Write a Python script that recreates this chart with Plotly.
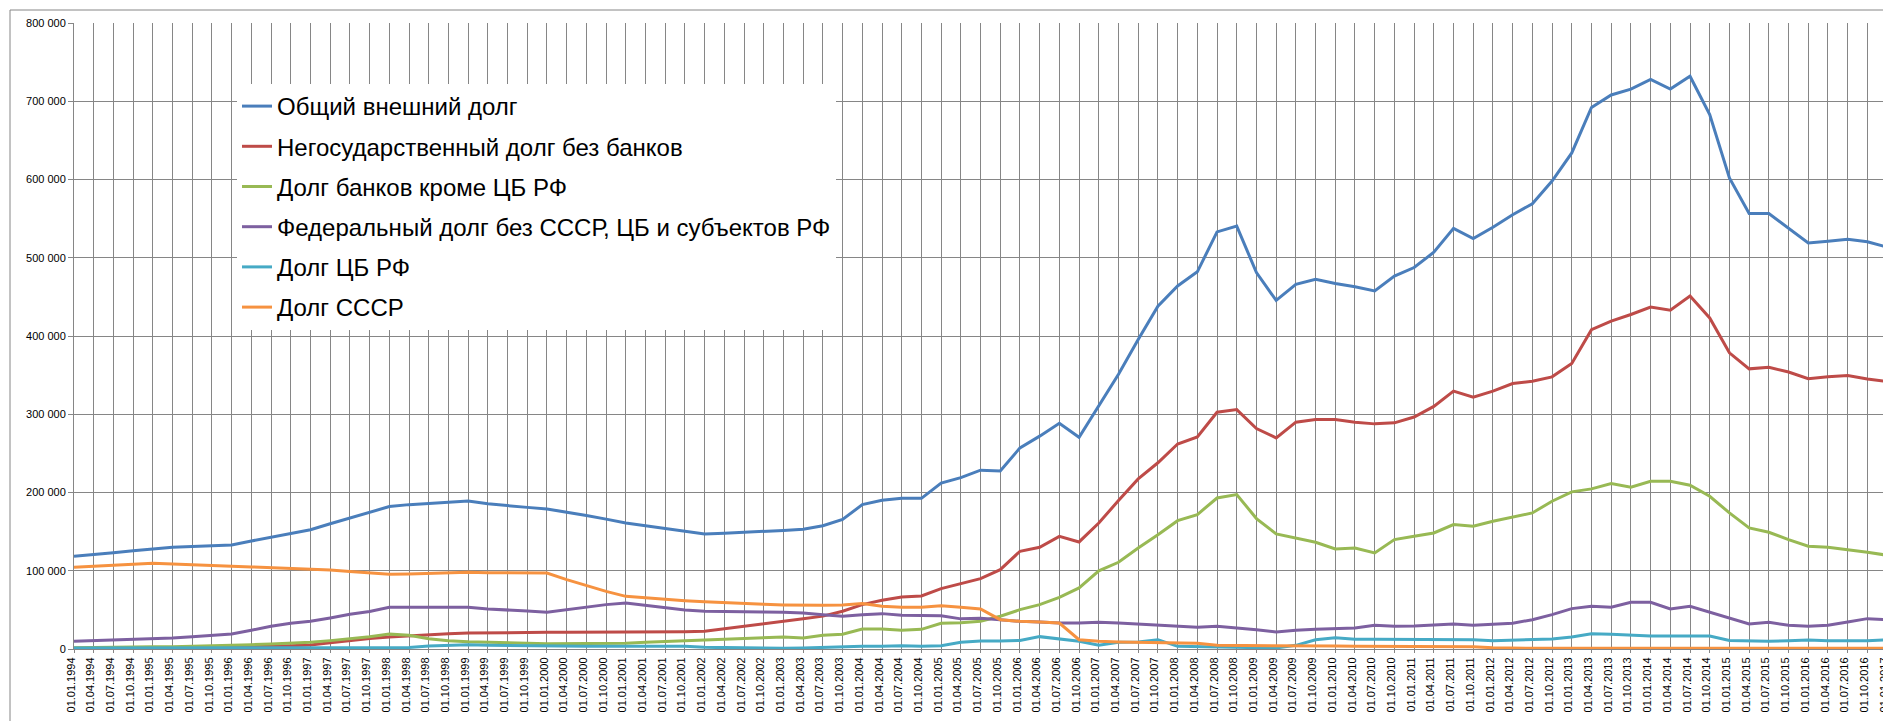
import plotly.graph_objects as go

categories = [
    "01.01.1994", "01.04.1994", "01.07.1994", "01.10.1994",
    "01.01.1995", "01.04.1995", "01.07.1995", "01.10.1995",
    "01.01.1996", "01.04.1996", "01.07.1996", "01.10.1996",
    "01.01.1997", "01.04.1997", "01.07.1997", "01.10.1997",
    "01.01.1998", "01.04.1998", "01.07.1998", "01.10.1998",
    "01.01.1999", "01.04.1999", "01.07.1999", "01.10.1999",
    "01.01.2000", "01.04.2000", "01.07.2000", "01.10.2000",
    "01.01.2001", "01.04.2001", "01.07.2001", "01.10.2001",
    "01.01.2002", "01.04.2002", "01.07.2002", "01.10.2002",
    "01.01.2003", "01.04.2003", "01.07.2003", "01.10.2003",
    "01.01.2004", "01.04.2004", "01.07.2004", "01.10.2004",
    "01.01.2005", "01.04.2005", "01.07.2005", "01.10.2005",
    "01.01.2006", "01.04.2006", "01.07.2006", "01.10.2006",
    "01.01.2007", "01.04.2007", "01.07.2007", "01.10.2007",
    "01.01.2008", "01.04.2008", "01.07.2008", "01.10.2008",
    "01.01.2009", "01.04.2009", "01.07.2009", "01.10.2009",
    "01.01.2010", "01.04.2010", "01.07.2010", "01.10.2010",
    "01.01.2011", "01.04.2011", "01.07.2011", "01.10.2011",
    "01.01.2012", "01.04.2012", "01.07.2012", "01.10.2012",
    "01.01.2013", "01.04.2013", "01.07.2013", "01.10.2013",
    "01.01.2014", "01.04.2014", "01.07.2014", "01.10.2014",
    "01.01.2015", "01.04.2015", "01.07.2015", "01.10.2015",
    "01.01.2016", "01.04.2016", "01.07.2016", "01.10.2016",
    "01.01.2017",
]

total_debt = [
    118500, 120500, 123000, 125500, 128000, 130000, 131000, 132000,
    133000, 138000, 143000, 148000, 152500, 160000, 167500, 175000,
    182000, 184500, 186000, 187500, 189000, 185500, 183000, 181000,
    179000, 175000, 170500, 166000, 161000, 157500, 154000, 150500,
    147000, 148000, 149000, 150500, 151500, 153000, 157500, 165500,
    184500, 190000, 192500, 192500, 212000, 219000, 228500, 227500,
    257000, 272000, 288500, 270500, 310000, 351000, 395500, 438000,
    464000, 482000, 533000, 540500, 481000, 445500, 466000, 472500,
    467000, 463000, 457500, 476500, 487500, 507000, 537500, 524500,
    539000, 555000, 569000, 598000, 634000, 692000, 708000, 715500,
    728000, 715500, 732000, 683000, 602000, 556500, 556500, 538000,
    519000, 521000, 523500, 520500, 513500,
]

nonstate_debt = [
    1000, 1000, 1200, 1400, 1600, 1800, 2000, 2200,
    2500, 3000, 3500, 4000, 5000, 8000, 11000, 13500,
    15300, 17000, 18300, 19600, 20500, 20900, 21200, 21300,
    21300, 21300, 21300, 21300, 21300, 21400, 21600, 22000,
    22600, 26000, 29000, 32000, 35500, 38800, 42000, 48200,
    56700, 62200, 66500, 67800, 77200, 83500, 90000, 101400,
    124900, 130000, 144000, 136800, 161000, 189700, 217400, 238000,
    262000, 271000, 302600, 306000, 281800, 269800, 289900, 293300,
    293300, 289900, 287700, 289000, 296500, 310000, 329500, 321800,
    329500, 339300, 342300, 347800, 365000, 408000, 419000, 427500,
    437000, 433000, 451000, 423000, 378500, 358000, 360000, 354000,
    345500, 348000, 349500, 345000, 342000,
]

banks_debt = [
    1500, 2000, 2000, 2500, 3000, 3000, 3500, 4000,
    4500, 5500, 6500, 7500, 8500, 10700, 13000, 15800,
    19000, 17500, 13200, 10700, 9400, 9000, 8100, 7500,
    6600, 6800, 6800, 6800, 7200, 8500, 9800, 10700,
    11500, 12400, 13600, 14500, 15300, 14000, 17500, 18800,
    25600, 25600, 23900, 25100, 32800, 33600, 35400, 41800,
    50300, 56700, 66000, 78000, 100000, 110800, 129000, 146000,
    164000, 171800, 193000, 197400, 166700, 147000, 142000, 136400,
    127900, 129000, 122800, 139800, 144000, 148300, 159000, 156900,
    163300, 168800, 173900, 188800, 200800, 204600, 211400, 206700,
    214400, 214400, 209300, 195200, 173900, 154700, 149200, 139800,
    131300, 130000, 127000, 123600, 119800,
]

federal_debt = [
    9800, 10600, 11000, 12000, 12400, 14000, 15800, 17500,
    19200, 24000, 29000, 33000, 35400, 39600, 44300, 48000,
    53300, 53300, 53300, 53300, 53300, 51200, 49400, 48500,
    46900, 50300, 53700, 56700, 58800, 55800, 52400, 49800,
    48200, 48200, 47700, 47300, 46900, 46000, 43900, 41800,
    43900, 45200, 43000, 43000, 42600, 38500, 39200, 37500,
    35400, 34500, 33200, 33200, 34100, 33200, 32000, 30300,
    29000, 27700, 29000, 26900, 24700, 21700, 23900, 25100,
    26400, 26900, 30300, 29000, 29500, 30300, 32000, 30300,
    31500, 32800, 37500, 43900, 51600, 54600, 53300, 59700,
    59700, 51200, 54600, 46900, 39600, 32000, 34100, 30300,
    29000, 30300, 34500, 38800, 37500,
]

cb_debt = [
    1300, 1300, 1300, 1300, 1300, 1300, 1300, 1300,
    1300, 1300, 1300, 1300, 1300, 1300, 1300, 1300,
    1300, 2000, 3800, 5000, 5500, 4700, 4300, 4000,
    3400, 3400, 3400, 3400, 3400, 3400, 3400, 3400,
    2100, 1700, 1300, 900, 900, 1300, 2100, 3000,
    3400, 3400, 4300, 3400, 4300, 8500, 10200, 10200,
    11000, 15800, 12800, 9800, 4700, 8500, 9000, 11900,
    3400, 3000, 2100, 2100, 2100, 1300, 4700, 11900,
    14500, 12400, 12400, 12400, 12200, 11900, 11900, 11900,
    10700, 11500, 11500, 12800, 15300, 19600, 18800, 17500,
    16600, 16600, 16600, 16600, 11000, 10700, 9800, 10700,
    11500, 10700, 10700, 10700, 11900,
]

ussr_debt = [
    104400, 105700, 107000, 108300, 109500, 108700, 107400, 106600,
    105700, 104900, 104000, 103600, 102700, 101000, 98900, 97200,
    95500, 95900, 96800, 97600, 98000, 97600, 97400, 97200,
    97000, 88700, 81000, 73700, 67300, 65200, 63500, 61800,
    60500, 59200, 58000, 57100, 56300, 55800, 55800, 56300,
    58000, 54600, 53300, 53300, 55400, 53500, 51200, 37500,
    35400, 34500, 33200, 11900, 9800, 9000, 8500, 8500,
    7700, 7200, 4700, 4700, 4700, 4500, 4300, 4000,
    3800, 3600, 3400, 3000, 3000, 3000, 3000, 3000,
    1500, 1000, 1000, 1000, 1000, 1000, 1000, 1000,
    1000, 1000, 1000, 1000, 1000, 1000, 1000, 1000,
    1000, 1000, 1000, 1000, 1000,
]

series_names = [
    "Общий внешний долг",
    "Негосударственный долг без банков",
    "Долг банков кроме ЦБ РФ",
    "Федеральный долг без СССР, ЦБ и субъектов РФ",
    "Долг ЦБ РФ",
    "Долг СССР",
]
series_values = [total_debt, nonstate_debt, banks_debt, federal_debt, cb_debt, ussr_debt]
series_colors = ["#4A7EBB", "#BE4B48", "#98B954", "#7D60A0", "#46AAC5", "#F69240"]

y_ticks = [0, 100000, 200000, 300000, 400000, 500000, 600000, 700000, 800000]

W, H = 1891, 721
ML, MR, MT, MB = 66, 6, 15, 80
PW, PH = W - ML - MR, H - MT - MB

def px_x(p):
    return (p - ML) / PW

def px_y(p):
    return (H - MB - p) / PH

fig = go.Figure()
for k, (name, vals, col) in enumerate(zip(series_names, series_values, series_colors)):
    fig.add_trace(go.Scatter(
        x=categories, y=vals, mode="lines", name=name,
        line=dict(color=col, width=3),
        legendgroup="g%d" % k,
    ))

grid_col = "#868686"
fig.update_layout(
    width=W, height=H,
    margin=dict(l=ML, r=MR, t=MT, b=MB),
    paper_bgcolor="white", plot_bgcolor="white",
    separators=", ",
    font=dict(family="Liberation Sans, Arial, sans-serif", size=12, color="black"),
    showlegend=True,
    legend=dict(
        x=px_x(229), y=px_y(76), xanchor="left", yanchor="top",
        bgcolor="white", borderwidth=0,
        font=dict(family="Liberation Sans, Arial, sans-serif", size=24, color="black"),
        tracegroupgap=6,
        traceorder="grouped",
    ),
    xaxis=dict(
        type="category",
        range=[0, 92.3],
        tickmode="array", tickvals=categories, ticktext=categories,
        tickangle=-90,
        ticklabeloverflow="allow",
        ticklabelshift=-3,
        showgrid=True, gridcolor=grid_col, gridwidth=1,
        showline=True, linecolor=grid_col, linewidth=1,
        ticks="outside", ticklen=3, tickcolor=grid_col,
        tickfont=dict(size=11),
        zeroline=False,
    ),
    yaxis=dict(
        range=[0, 800000],
        tickmode="array", tickvals=y_ticks,
        tickformat=",d",
        showgrid=True, gridcolor=grid_col, gridwidth=1,
        showline=True, linecolor=grid_col, linewidth=1,
        ticks="outside", ticklen=5, tickcolor=grid_col,
        tickfont=dict(size=11),
        zeroline=False,
    ),
    shapes=[dict(
        type="rect", xref="paper", yref="paper",
        x0=px_x(2), x1=px_x(1893), y0=px_y(719), y1=px_y(2),
        line=dict(color=grid_col, width=1), fillcolor="rgba(0,0,0,0)",
        layer="below",
    )],
)

fig.write_html("out.html")
